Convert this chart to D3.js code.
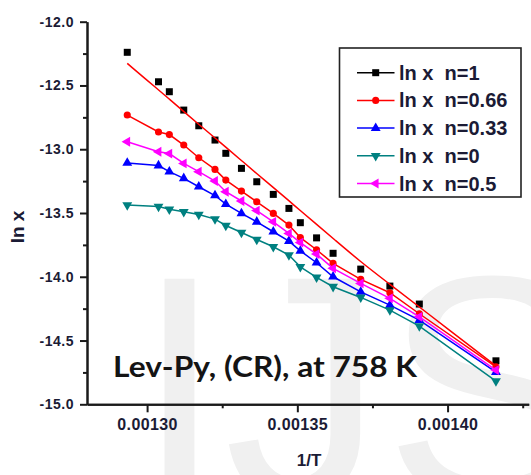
<!DOCTYPE html>
<html>
<head>
<meta charset="utf-8">
<script src="https://cdn.jsdelivr.net/npm/d3@7"></script>
<style>
  body { margin: 0; background: #fff; }
  svg { display: block; }
</style>
</head>
<body>
<svg id="chart" width="531" height="475" font-family="'Liberation Sans', Arial, sans-serif"></svg>
<script>
// Reciprocal temperature (1/T, K^-1) shared by all series
const invT = [0.0012934, 0.0013038, 0.0013074, 0.0013122, 0.0013172, 0.0013226,
              0.0013262, 0.0013314, 0.0013365, 0.0013420, 0.0013472, 0.0013510,
              0.0013564, 0.0013619, 0.0013711, 0.0013808, 0.0013906, 0.0014161];

// ln x for each reaction order n
const lnxN1   = [-12.240, -12.471, -12.549, -12.693, -12.816, -12.928, -13.032, -13.150, -13.255,
                 -13.354, -13.464, -13.576, -13.695, -13.816, -13.940, -14.073, -14.214, -14.659];
const lnxN066 = [-12.732, -12.865, -12.885, -12.967, -13.067, -13.158, -13.242, -13.328, -13.412,
                 -13.503, -13.595, -13.693, -13.788, -13.895, -14.020, -14.125, -14.290, -14.706];
const lnxN033 = [-13.108, -13.128, -13.176, -13.228, -13.294, -13.363, -13.430, -13.503, -13.569,
                 -13.647, -13.720, -13.797, -13.890, -14.000, -14.118, -14.222, -14.340, -14.747];
const lnxN0   = [-13.438, -13.449, -13.471, -13.490, -13.512, -13.548, -13.598, -13.653, -13.708,
                 -13.765, -13.830, -13.922, -14.005, -14.078, -14.162, -14.261, -14.387, -14.818];
const lnxN05  = [-12.941, -13.020, -13.034, -13.111, -13.176, -13.249, -13.333, -13.406, -13.481,
                 -13.569, -13.660, -13.732, -13.822, -13.934, -14.052, -14.169, -14.314, -14.732];
// Fitted curve through the n=1 points
const lnxN1Fit = [-12.327, -12.535, -12.607, -12.705, -12.805, -12.911, -12.985, -13.088, -13.191,
                  -13.300, -13.404, -13.481, -13.589, -13.699, -13.884, -14.059, -14.237, -14.699];

const seriesNames = ["ln x  n=1", "ln x  n=0.66", "ln x  n=0.33", "ln x  n=0", "ln x  n=0.5"];

// Axis ticks
const xTickValues = [0.00130, 0.00135, 0.00140];
const xTickLabels = ["0.00130", "0.00135", "0.00140"];
const xMinorValues = [0.001325, 0.001375, 0.001425];
const yTickValues = [-12.0, -12.5, -13.0, -13.5, -14.0, -14.5, -15.0];
const yTickLabels = ["-12.0", "-12.5", "-13.0", "-13.5", "-14.0", "-14.5", "-15.0"];
const yMinorValues = [-12.25, -12.75, -13.25, -13.75, -14.25, -14.75];

const xTitle = "1/T";
const yTitle = "ln x";
const note = "Lev-Py, (CR), at 758 K";
const watermark = "IJS";

const svg = d3.select("#chart");
const x = d3.scaleLinear().domain([0.00128, 0.001427]).range([87, 528.7]);
const y = d3.scaleLinear().domain([-15, -12]).range([404.3, 21.7]);

// faint background lettering
svg.append("text")
  .attr("x", 135).attr("y", 499)
  .attr("font-size", 320)
  .attr("fill", "#f0f0f0")
  .text(watermark);

const labelColor = "#1b1b35";

// axes
const yAxis = svg.append("g").attr("transform", `translate(${x(0.00128)},0)`)
  .call(d3.axisLeft(y).tickValues(yTickValues)
    .tickFormat((d, i) => yTickLabels[i]).tickSize(7).tickSizeOuter(0).tickPadding(6));
const yMinor = svg.append("g").attr("transform", `translate(${x(0.00128)},0)`)
  .call(d3.axisLeft(y).tickValues(yMinorValues).tickFormat("").tickSize(4).tickSizeOuter(0));
const xAxis = svg.append("g").attr("transform", `translate(0,${y(-15)})`)
  .call(d3.axisBottom(x).tickValues(xTickValues)
    .tickFormat((d, i) => xTickLabels[i]).tickSize(8).tickSizeOuter(0).tickPadding(6));
const xMinor = svg.append("g").attr("transform", `translate(0,${y(-15)})`)
  .call(d3.axisBottom(x).tickValues(xMinorValues).tickFormat("").tickSize(4).tickSizeOuter(0));

[yAxis, yMinor, xAxis, xMinor].forEach(g => {
  g.attr("font-family", null);
  g.selectAll("path.domain").attr("stroke", "#1a1a1a").attr("stroke-width", 2);
  g.selectAll(".tick line").attr("stroke", "#1a1a1a").attr("stroke-width", 2);
});
yAxis.selectAll(".tick text")
  .attr("font-size", 14).attr("font-weight", "bold").attr("letter-spacing", 0.5)
  .attr("fill", labelColor);
xAxis.selectAll(".tick text")
  .attr("font-size", 16).attr("font-weight", "bold").attr("letter-spacing", 0.4)
  .attr("fill", labelColor);

// axis titles
svg.append("text")
  .attr("x", 309).attr("y", 466)
  .attr("text-anchor", "middle")
  .attr("font-size", 17).attr("font-weight", "bold").attr("fill", labelColor)
  .text(xTitle);
svg.append("text")
  .attr("transform", "translate(24,227) rotate(-90)")
  .attr("text-anchor", "middle")
  .attr("font-size", 19).attr("font-weight", "bold").attr("fill", labelColor)
  .text(yTitle);

// series definitions
const series = [
  { name: seriesNames[0], values: lnxN1,   color: "#000000", symbol: d3.symbolSquare,   size: 49, rot: 0,   line: false },
  { name: seriesNames[1], values: lnxN066, color: "#ff0000", symbol: d3.symbolCircle,   size: 40, rot: 0,   line: true },
  { name: seriesNames[2], values: lnxN033, color: "#0000ff", symbol: d3.symbolTriangle, size: 42, rot: 0,   line: true },
  { name: seriesNames[3], values: lnxN0,   color: "#008080", symbol: d3.symbolTriangle, size: 42, rot: 180, line: true },
  { name: seriesNames[4], values: lnxN05,  color: "#ff00ff", symbol: d3.symbolTriangle, size: 42, rot: -90, line: true }
];

const line = d3.line().x(d => x(d[0])).y(d => y(d[1]));
const smooth = d3.line().x(d => x(d[0])).y(d => y(d[1])).curve(d3.curveBasis);
const plot = svg.append("g");

series.forEach(s => {
  const pts = invT.map((t, i) => [t, s.values[i]]);
  if (s.line) {
    plot.append("path").attr("d", line(pts))
      .attr("fill", "none").attr("stroke", s.color).attr("stroke-width", 1.5);
  }
  plot.append("g").selectAll("path").data(pts).join("path")
    .attr("d", d3.symbol().type(s.symbol).size(s.size))
    .attr("transform", d => `translate(${x(d[0])},${y(d[1])}) rotate(${s.rot})`)
    .attr("fill", s.color);
  if (s === series[0]) {
    // fitted curve for n=1 drawn in red
    plot.append("path").attr("d", smooth(invT.map((t, i) => [t, lnxN1Fit[i]])))
      .attr("fill", "none").attr("stroke", "#ff0000").attr("stroke-width", 1.5);
  }
});

// legend
const legend = svg.append("g");
legend.append("rect")
  .attr("x", 339.5).attr("y", 48).attr("width", 181.5).attr("height", 149)
  .attr("fill", "#fff").attr("stroke", "#222").attr("stroke-width", 1.6);
series.forEach((s, i) => {
  const cy = 72.7 + i * 27.7;
  legend.append("line").attr("x1", 357).attr("x2", 394.5).attr("y1", cy).attr("y2", cy)
    .attr("stroke", s.color).attr("stroke-width", 1.5);
  legend.append("path")
    .attr("d", d3.symbol().type(s.symbol).size(s.size))
    .attr("transform", `translate(375.7,${cy}) rotate(${s.rot})`)
    .attr("fill", s.color);
  legend.append("text").attr("x", 399).attr("y", cy + 7)
    .attr("font-size", 20).attr("font-weight", "bold").attr("fill", labelColor)
    .attr("xml:space", "preserve").style("white-space", "pre")
    .text(s.name);
});

// annotation
svg.append("text")
  .attr("x", 113).attr("y", 377)
  .style("font-family", "Lato, 'Open Sans', sans-serif")
  .attr("font-size", 28).attr("font-weight", "bold").attr("fill", "#141414")
  .attr("textLength", 304).attr("lengthAdjust", "spacingAndGlyphs")
  .text(note);
</script>
</body>
</html>
